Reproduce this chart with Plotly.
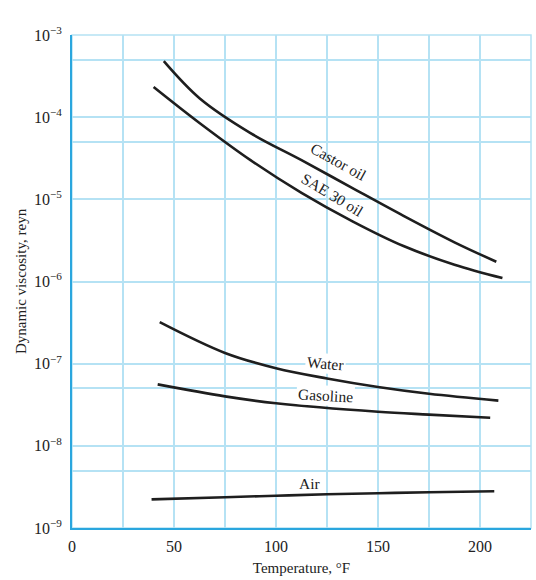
import plotly.graph_objects as go

# Temperature (°F) and dynamic viscosity (reyn)
castor_t = [45, 62.5, 87.5, 112.5, 137.5, 162.5, 187.5, 208]
castor_mu = [4.8e-4, 1.7e-4, 6.4e-5, 3.0e-5, 1.37e-5, 6.3e-6, 3.0e-6, 1.74e-6]

sae30_t = [40, 62.5, 87.5, 112.5, 137.5, 162.5, 187.5, 211]
sae30_mu = [2.33e-4, 8.5e-5, 3.0e-5, 1.2e-5, 5.4e-6, 2.7e-6, 1.6e-6, 1.1e-6]

water_t = [43, 75, 100, 125, 150, 175, 209]
water_mu = [3.2e-7, 1.35e-7, 8.8e-8, 6.6e-8, 5.2e-8, 4.3e-8, 3.55e-8]

gasoline_t = [42, 75, 100, 150, 175, 205]
gasoline_mu = [5.6e-8, 4.0e-8, 3.3e-8, 2.6e-8, 2.4e-8, 2.2e-8]

air_t = [39, 75, 100, 125, 150, 175, 207]
air_mu = [2.23e-9, 2.37e-9, 2.47e-9, 2.57e-9, 2.65e-9, 2.72e-9, 2.8e-9]

labels = ["Castor oil", "SAE 30 oil", "Water", "Gasoline", "Air"]
label_t = [130.5, 127.5, 124.5, 124.5, 116.7]
label_logmu = [-4.54, -4.94, -7.00, -7.39, -8.46]
label_angle = [29, 31, 5, 3, 0]
label_bg = [None, None, "white", "white", None]

x_ticks = list(range(0, 226, 25))
x_ticktext = [str(v) if v % 50 == 0 else "" for v in x_ticks]
decades = [-9, -8, -7, -6, -5, -4, -3]
half_grid = [5e-9, 5e-8, 5e-5, 5e-4]

FONT = "Liberation Serif, Times New Roman, serif"
GRID = "#b5e2f4"
AXIS = "#2aa6de"
LINE = "#1e1e1e"

fig = go.Figure()
for t, mu in [(castor_t, castor_mu), (sae30_t, sae30_mu), (water_t, water_mu),
              (gasoline_t, gasoline_mu), (air_t, air_mu)]:
    fig.add_trace(go.Scatter(x=t, y=mu, mode="lines",
                             line=dict(color=LINE, width=2.6, shape="spline", smoothing=1.0),
                             showlegend=False, hoverinfo="skip"))

for txt, xt, ly, ang, bg in zip(labels, label_t, label_logmu, label_angle, label_bg):
    fig.add_annotation(x=xt, y=ly, text=txt, showarrow=False, textangle=ang,
                       font=dict(family=FONT, size=15.5, color="#222"),
                       bgcolor=bg if bg else "rgba(0,0,0,0)", borderpad=1)

y_tickvals = []
y_ticktext = []
for d in decades:
    y_tickvals.append(10.0 ** d)
    y_ticktext.append("10<sup>\u2212%d</sup>" % (-d))
for h in half_grid:
    y_tickvals.append(h)
    y_ticktext.append("")

fig.add_shape(type="rect", xref="paper", yref="paper", x0=0, x1=1, y0=0, y1=1,
              line=dict(color=GRID, width=1.5), layer="below")

fig.update_layout(
    width=536, height=580,
    margin=dict(l=72, r=5, t=35, b=52),
    paper_bgcolor="white", plot_bgcolor="white",
    font=dict(family=FONT, size=15, color="#222"),
    xaxis=dict(range=[0, 225], tickmode="array", tickvals=x_ticks, ticktext=x_ticktext,
               showgrid=True, gridcolor=GRID, gridwidth=1.5,
               showline=True, linecolor=AXIS, linewidth=2, zeroline=False,
               ticks="", ticklabelstandoff=3, tickfont=dict(size=16),
               title=dict(text="Temperature, \u00b0F", font=dict(size=15), standoff=8)),
    yaxis=dict(type="log", range=[-9, -3], tickmode="array", tickvals=y_tickvals,
               ticktext=y_ticktext, showgrid=True, gridcolor=GRID, gridwidth=1.5,
               showline=True, linecolor=AXIS, linewidth=2, zeroline=False,
               ticks="", ticklabelstandoff=5, tickfont=dict(size=16),
               title=dict(text="Dynamic viscosity, reyn", font=dict(size=15), standoff=4)),
)

fig.write_html("out.html")
